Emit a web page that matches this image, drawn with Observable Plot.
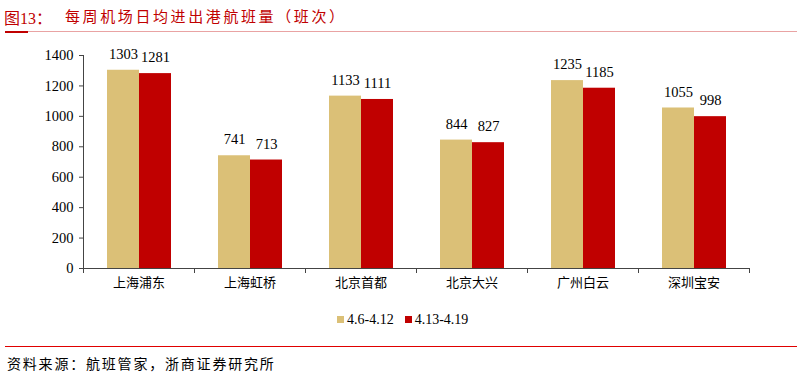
<!DOCTYPE html>
<html><head><meta charset="utf-8">
<script src="https://cdn.jsdelivr.net/npm/d3@7"></script>
<script src="https://cdn.jsdelivr.net/npm/@observablehq/plot@0.6"></script>
<style>
body{margin:0;background:#fff;}
#wrap{position:relative;width:802px;height:378px;overflow:hidden;font-family:"Liberation Serif","Noto Sans CJK SC",serif;}
.t{position:absolute;white-space:nowrap;}
#chart{position:absolute;left:0;top:40px;}
</style></head>
<body><div id="wrap">
<div class="t" style="left:4px;top:5px;font-size:16px;color:#c00000;">图13：</div>
<div class="t" style="left:65px;top:5px;font-size:15px;letter-spacing:2.6px;color:#c00000;font-family:'Noto Sans CJK SC',sans-serif;">每周机场日均进出港航班量（班次）</div>
<div style="position:absolute;left:5px;top:31px;width:792px;height:1px;background:#e9a3a3;"></div>
<div style="position:absolute;left:5px;top:31px;width:23px;height:2px;background:#c00000;"></div>
<div id="chart"></div>
<div id="legend" class="t" style="left:337px;top:312px;font-size:14px;color:#000;"></div>
<div style="position:absolute;left:5px;top:346px;width:792px;height:1px;background:#e00000;"></div>
<div class="t" style="left:7px;top:353px;font-size:14px;letter-spacing:1.8px;color:#000;font-family:'Noto Sans CJK SC',sans-serif;">资料来源：航班管家，浙商证券研究所</div>
</div>
<script>
const categories = ["上海浦东","上海虹桥","北京首都","北京大兴","广州白云","深圳宝安"];
const seriesNames = ["4.6-4.12","4.13-4.19"];
const seriesA = [1303,741,1133,844,1235,1055];
const seriesB = [1281,713,1111,827,1185,998];
const colors = ["#dbc077","#c00000"];
const yTicks = [0,200,400,600,800,1000,1200,1400];

const data = [];
categories.forEach((c,i)=>{
  data.push({cat:c, s:seriesNames[0], v:seriesA[i]});
  data.push({cat:c, s:seriesNames[1], v:seriesB[i]});
});

const serif = "Liberation Serif";
const plot = Plot.plot({
  width: 802, height: 260,
  marginTop: 15, marginBottom: 32, marginLeft: 82, marginRight: 52,
  style: {fontFamily: serif, fontSize: "14px", color: "#000", background: "transparent"},
  fx: {domain: categories, padding: 0, label: null},
  x: {domain: seriesNames, paddingInner: 0, paddingOuter: 0.72, axis: null},
  y: {domain: [0,1400], label: null},
  color: {domain: seriesNames, range: colors},
  marks: [
    Plot.barY(data, {fx:"cat", x:"s", y:"v", fill:"s"}),
    Plot.text(data, {fx:"cat", x:"s", y:"v", text: d=>String(d.v), dy:-16, fontSize:14.5, fontFamily: serif, fill:"#000"}),
    Plot.ruleY([0], {stroke:"#444", strokeWidth:1}),
    Plot.frame({anchor:"left", insetTop:213, insetBottom:-4, stroke:"#444"}),
    Plot.frame({anchor:"right", facetAnchor:"right", insetTop:213, insetBottom:-4, stroke:"#444"}),
    Plot.frame({anchor:"left", facetAnchor:"left", stroke:"#444"}),
    Plot.axisY({ticks: yTicks, tickFormat: d3.format("d"), tickSize: 4, tickPadding: 6, fontSize: 14.5, fontFamily: serif, label: null, stroke:"#444"}),
    Plot.axisFx({anchor:"bottom", tickSize:0, tickPadding:9, label:null, fontSize:13, fontFamily:"Noto Sans CJK SC", letterSpacing: 1.2})
  ]
});
document.getElementById("chart").appendChild(plot);

const lg = document.getElementById("legend");
seriesNames.forEach((n,i)=>{
  const sw = document.createElement("span");
  sw.style.cssText = `display:inline-block;width:7px;height:7px;background:${colors[i]};margin-right:3px;vertical-align:1px;`;
  const tx = document.createElement("span");
  tx.textContent = n;
  tx.style.marginRight = i===0 ? "11px" : "0";
  lg.appendChild(sw); lg.appendChild(tx);
});
</script>
</body></html>
